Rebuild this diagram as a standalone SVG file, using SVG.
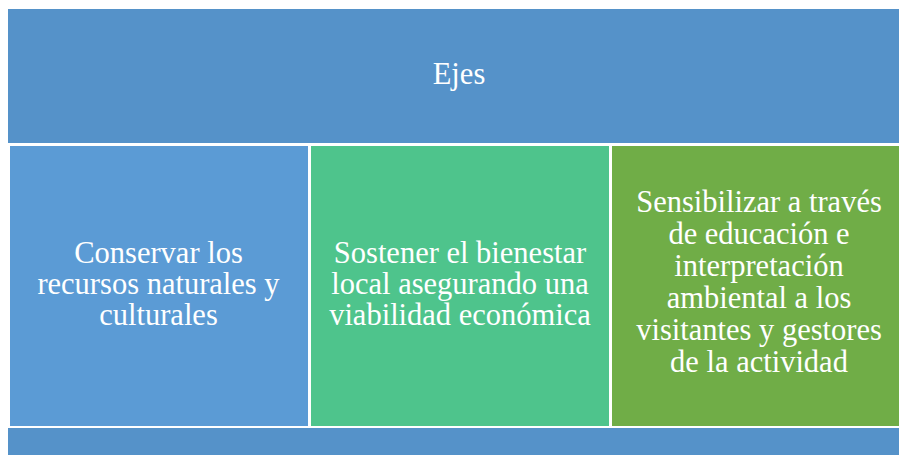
<svg xmlns="http://www.w3.org/2000/svg" width="899" height="455" viewBox="0 0 899 455">
<style>
.t{font-family:'Liberation Serif','Times New Roman',serif;font-size:30.5px;fill:#ffffff;text-anchor:middle}
.bar{fill:#5592C9}
</style>
<rect width="899" height="455" fill="#ffffff"/>
<g id="header">
<rect class="bar" x="8" y="9" width="902" height="134"/>
<text class="t" x="459" y="84">Ejes</text>
</g>
<g id="eje1">
<rect x="10" y="146" width="298" height="280" fill="#5B9BD5"/>
<text class="t" x="158.5" y="263">Conservar los</text>
<text class="t" x="158.5" y="294">recursos naturales y</text>
<text class="t" x="158.5" y="325">culturales</text>
</g>
<g id="eje2">
<rect x="311" y="146" width="298" height="280" fill="#4EC48C"/>
<text class="t" x="460" y="263">Sostener el bienestar</text>
<text class="t" x="460" y="294">local asegurando una</text>
<text class="t" x="460" y="325">viabilidad económica</text>
</g>
<g id="eje3">
<rect x="612" y="146" width="298" height="280" fill="#70AD47"/>
<text class="t" x="759" y="212">Sensibilizar a través</text>
<text class="t" x="759" y="244">de educación e</text>
<text class="t" x="759" y="276">interpretación</text>
<text class="t" x="759" y="308">ambiental a los</text>
<text class="t" x="759" y="340">visitantes y gestores</text>
<text class="t" x="759" y="372">de la actividad</text>
</g>
<g id="footer">
<rect class="bar" x="8" y="428" width="902" height="30"/>
</g>
<g id="connectors"></g>
</svg>
